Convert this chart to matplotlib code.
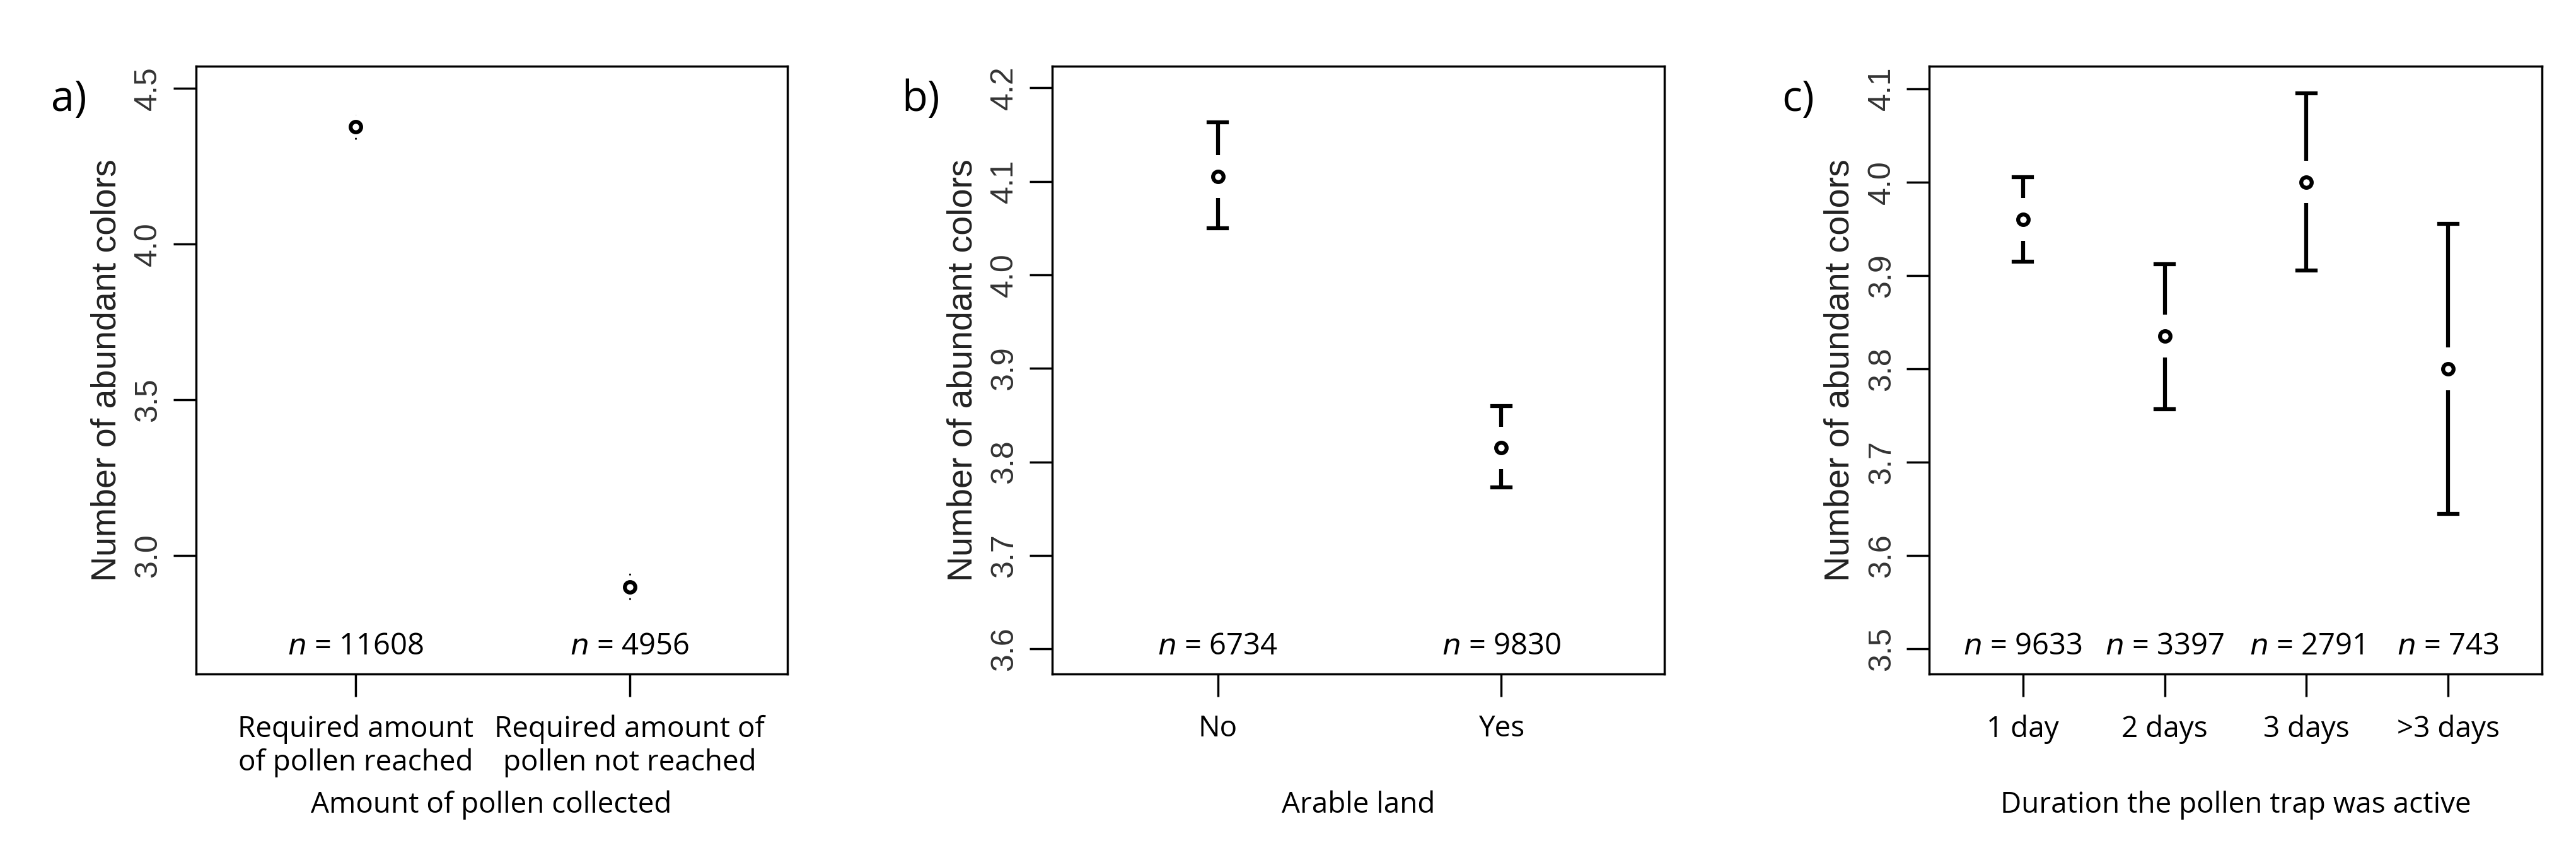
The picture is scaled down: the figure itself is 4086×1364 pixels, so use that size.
import matplotlib
matplotlib.use("Agg")
import matplotlib.pyplot as plt

# Panel a
a_cats = ["Required amount\nof pollen reached", "Required amount of\npollen not reached"]
a_mean = [4.375, 2.90]
a_lo = [4.335, 2.86]
a_hi = [4.415, 2.945]
a_n = ["11608", "4956"]
# Panel b
b_cats = ["No", "Yes"]
b_mean = [4.105, 3.815]
b_lo = [4.050, 3.773]
b_hi = [4.163, 3.860]
b_n = ["6734", "9830"]
# Panel c
c_cats = ["1 day", "2 days", "3 days", ">3 days"]
c_mean = [3.960, 3.835, 4.000, 3.800]
c_lo = [3.915, 3.757, 3.905, 3.645]
c_hi = [4.005, 3.912, 4.095, 3.955]
c_n = ["9633", "3397", "2791", "743"]

fig = plt.figure(figsize=(40.86, 13.64), dpi=100)
TF = ["Open Sans", "DejaVu Sans"]
AF = ["Liberation Sans", "DejaVu Sans"]

panels = [
    dict(rect=[0.076, 0.216, 0.2296, 0.707], cats=a_cats, m=a_mean, lo=a_lo, hi=a_hi, n=a_n,
         ylim=(2.62, 4.57), yt=[3.0, 3.5, 4.0, 4.5], xlim=(0.417, 2.575), letter="a)",
         xlabel="Amount of pollen collected", dotted=True),
    dict(rect=[0.4085, 0.216, 0.2376, 0.707], cats=b_cats, m=b_mean, lo=b_lo, hi=b_hi, n=b_n,
         ylim=(3.573, 4.223), yt=[3.6, 3.7, 3.8, 3.9, 4.0, 4.1, 4.2], xlim=(0.416, 2.575), letter="b)",
         xlabel="Arable land", dotted=False),
    dict(rect=[0.749, 0.216, 0.2377, 0.707], cats=c_cats, m=c_mean, lo=c_lo, hi=c_hi, n=c_n,
         ylim=(3.473, 4.124), yt=[3.5, 3.6, 3.7, 3.8, 3.9, 4.0, 4.1], xlim=(0.34, 4.66), letter="c)",
         xlabel="Duration the pollen trap was active", dotted=False),
]

for p in panels:
    ax = fig.add_axes(p["rect"])
    x = list(range(1, len(p["cats"]) + 1))
    ax.set_xlim(*p["xlim"])
    ax.set_ylim(*p["ylim"])
    span = p["ylim"][1] - p["ylim"][0]
    xspan = p["xlim"][1] - p["xlim"][0]
    gap = 0.035 * span
    cw = 0.03 * xspan / 2
    for xi, m, lo, hi in zip(x, p["m"], p["lo"], p["hi"]):
        if p["dotted"]:
            ax.plot([xi, xi], [lo, hi], ls=(0, (1, 6)), color="k", lw=2)
        else:
            if hi > m + gap:
                ax.plot([xi, xi], [m + gap, hi], color="k", lw=4.5, solid_capstyle="butt")
            if lo < m - gap:
                ax.plot([xi, xi], [lo, m - gap], color="k", lw=4.5, solid_capstyle="butt")
            ax.plot([xi - cw, xi + cw], [hi, hi], color="k", lw=4.5)
            ax.plot([xi - cw, xi + cw], [lo, lo], color="k", lw=4.5)
        ax.plot([xi], [m], marker="o", ms=12, mfc="white", mec="k", mew=4.5, zorder=5)
    for xi, nn in zip(x, p["n"]):
        ax.text(xi, p["ylim"][0] + 0.046 * span, r"$\it{n}$ = " + nn, ha="center", va="center",
                fontsize=34, family=TF)
    ax.set_xticks(x)
    ax.set_xticklabels(p["cats"], fontsize=33, family=TF, linespacing=1.2)
    ax.set_yticks(p["yt"])
    ax.set_yticklabels([f"{v:.1f}" for v in p["yt"]], rotation=90, va="center", fontsize=36,
                       family=AF, color="#333333")
    ax.tick_params(axis="both", length=26, width=2.5, pad=12)
    ax.tick_params(axis="x", pad=20)
    for s in ax.spines.values():
        s.set_linewidth(2.5)
    ax.set_ylabel("Number of abundant colors", fontsize=40, family=AF, color="#222222", labelpad=12)
    ax.text(0.5, -0.215, p["xlabel"], transform=ax.transAxes, ha="center", va="center",
            fontsize=33, family=TF)
    ax.text(-0.215, 0.945, p["letter"], transform=ax.transAxes, ha="center", va="center",
            fontsize=48, family=TF)

fig.savefig("out.png", dpi=100, facecolor="white")
